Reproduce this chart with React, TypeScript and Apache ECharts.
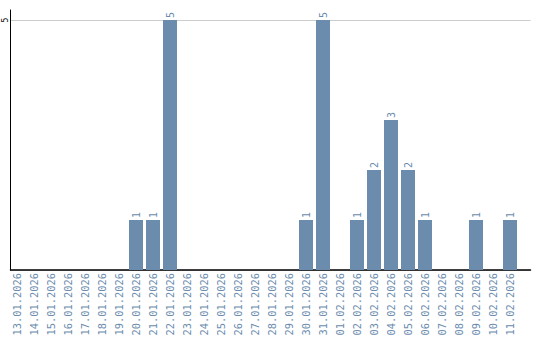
import React, { useEffect, useRef } from "react";
import * as echarts from "echarts";

const categories = [
  "13.01.2026", "14.01.2026", "15.01.2026", "16.01.2026", "17.01.2026", "18.01.2026",
  "19.01.2026", "20.01.2026", "21.01.2026", "22.01.2026", "23.01.2026", "24.01.2026",
  "25.01.2026", "26.01.2026", "27.01.2026", "28.01.2026", "29.01.2026", "30.01.2026",
  "31.01.2026", "01.02.2026", "02.02.2026", "03.02.2026", "04.02.2026", "05.02.2026",
  "06.02.2026", "07.02.2026", "08.02.2026", "09.02.2026", "10.02.2026", "11.02.2026",
];
const values = [
  0, 0, 0, 0, 0, 0,
  0, 1, 1, 5, 0, 0,
  0, 0, 0, 0, 0, 1,
  5, 0, 1, 2, 3, 2,
  1, 0, 0, 1, 0, 1,
];
const yAxisTop = 5.2;
const yTickMax = 5;
const yInterval = 5;

const BLUE = "#6b8cad";
const FONT = "DejaVu Sans Mono";

export default function App() {
  const ref = useRef<HTMLDivElement>(null);
  useEffect(() => {
    if (!ref.current) return;
    const chart = echarts.init(ref.current, null, { renderer: "svg", width: 540, height: 340 });
    chart.setOption({
      animation: false,
      grid: [
        { left: 8.5, right: 21.5, top: 10, bottom: 70, outerBoundsMode: "none" },
        { left: 10.5, right: 9.5, top: 10, bottom: 70, outerBoundsMode: "none" },
        { left: 10.5, right: 9.5, top: 20, bottom: 70, outerBoundsMode: "none" },
      ],
      xAxis: [
        {
          type: "category",
          gridIndex: 0,
          data: categories,
          axisLine: { show: false },
          axisTick: { show: false },
          axisLabel: {
            rotate: 90,
            interval: 0,
            margin: 3,
            color: BLUE,
            fontFamily: FONT,
            fontSize: 10.4,
            overflow: "none",
            hideOverlap: false,
          },
        },
        {
          type: "value",
          gridIndex: 1,
          min: 0,
          max: 1,
          axisLine: { show: true, onZero: false, lineStyle: { color: "#000", width: 1.5 } },
          axisTick: { show: false },
          axisLabel: { show: false },
          splitLine: { show: false },
        },
        {
          type: "value",
          gridIndex: 2,
          min: 0,
          max: 1,
          show: false,
        },
      ],
      yAxis: [
        {
          type: "value",
          gridIndex: 0,
          min: 0,
          max: yAxisTop,
          show: false,
          splitLine: { show: false },
        },
        {
          type: "value",
          gridIndex: 1,
          min: 0,
          max: yAxisTop,
          axisLine: { show: true, lineStyle: { color: "#000", width: 1 } },
          axisTick: { show: false },
          axisLabel: { show: false },
          splitLine: { show: false },
        },
        {
          type: "value",
          gridIndex: 2,
          min: 0,
          max: yTickMax,
          interval: yInterval,
          axisLine: { show: false },
          axisTick: { show: false },
          axisLabel: {
            showMinLabel: false,
            showMaxLabel: true,
            rotate: 90,
            margin: 1,
            color: "#000",
            fontFamily: FONT,
            fontSize: 8,
            formatter: (v: number) => (v === 0 ? "" : String(v)),
          },
          splitLine: { show: true, lineStyle: { color: "#cccccc", width: 1 } },
        },
      ],
      series: [
        {
          type: "bar",
          xAxisIndex: 0,
          yAxisIndex: 0,
          data: values.map((v) => (v === 0 ? null : v)),
          barWidth: 14,
          itemStyle: { color: BLUE },
          label: {
            show: true,
            position: "top",
            rotate: 90,
            align: "left",
            verticalAlign: "middle",
            distance: 2,
            color: BLUE,
            fontFamily: FONT,
            fontSize: 10,
          },
          z: 3,
        },
      ],
    });
    return () => chart.dispose();
  }, []);
  return (
    <div
      ref={ref}
      style={{ position: "absolute", left: 0, top: 0, width: 540, height: 340 }}
    />
  );
}
